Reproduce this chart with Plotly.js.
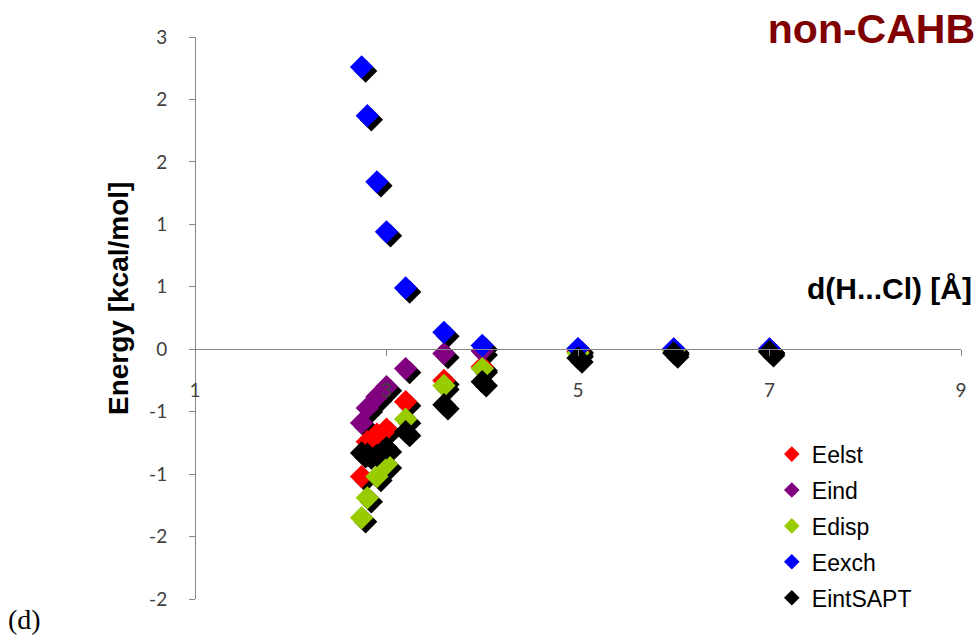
<!DOCTYPE html>
<html><head><meta charset="utf-8">
<script src="https://cdn.plot.ly/plotly-3.0.1.min.js"></script>
<style>html,body{margin:0;padding:0;background:#fff}#chart{width:978px;height:635px}</style>
</head><body><div id="chart"></div>
<script>
// ---- data ----
const distance = [2.74, 2.8, 2.9, 3.0, 3.2, 3.6, 4.0, 5.0, 6.0, 7.0];
const Eelst    = [-1.02, -0.74, -0.68, -0.64, -0.42, -0.25, -0.14, -0.02, -0.01, -0.005];
const Eind     = [-0.59, -0.47, -0.38, -0.30, -0.155, -0.035, -0.015, 0.0, 0.0, 0.0];
const Edisp    = [-1.35, -1.19, -1.02, -0.92, -0.56, -0.29, -0.155, -0.03, -0.01, -0.005];
const Eexch    = [2.26, 1.87, 1.34, 0.94, 0.49, 0.135, 0.03, 0.005, 0.003, 0.002];
const EintSAPT = [-0.83, -0.84, -0.85, -0.79, -0.66, -0.445, -0.26, -0.07, -0.03, -0.02];
const seriesNames = ['Eelst', 'Eind', 'Edisp', 'Eexch', 'EintSAPT'];
const xTickVals = [1, 3, 5, 7, 9];
const yTickVals = [-2, -1.5, -1, -0.5, 0, 0.5, 1, 1.5, 2, 2.5];
const yTickText = ['-2', '-2', '-1', '-1', '0', '1', '1', '2', '2', '3'];

// ---- styling ----
const seriesValues = [Eelst, Eind, Edisp, Eexch, EintSAPT];
const colors = ['#FF0000', '#800080', '#99CC00', '#0000FF', '#000000'];
const W = 978, H = 635, M = {l: 195, r: 17, t: 37, b: 36};
const xRange = [1, 9], yRange = [-2, 2.5];
const plotW = W - M.l - M.r, plotH = H - M.t - M.b;
const shadowPx = 4;
const dx = shadowPx * (xRange[1] - xRange[0]) / plotW;
const dy = shadowPx * (yRange[1] - yRange[0]) / plotH;
const mSize = 18;
const axisGray = '#868686';
const sans = '"Liberation Sans", Arial, sans-serif';
const tickFont = {family: 'Lato, "Liberation Sans", Arial, sans-serif', size: 19, color: '#404040'};

const traces = [];
// shadows (bottom layer, drawn on axes shifted by a few pixels)
seriesValues.forEach((vals, i) => {
  traces.push({
    x: distance, y: vals, xaxis: 'x', yaxis: 'y', type: 'scatter', mode: 'markers',
    marker: {symbol: 'diamond', size: mSize, color: '#000000', line: {width: 0}},
    showlegend: false, hoverinfo: 'skip'
  });
});
// markers
seriesValues.forEach((vals, i) => {
  traces.push({
    x: distance, y: vals, xaxis: 'x2', yaxis: 'y2', type: 'scatter', mode: 'markers',
    name: seriesNames[i], legendgroup: seriesNames[i],
    marker: {symbol: 'diamond', size: mSize, color: colors[i], line: {width: 0}}
  });
});

const layout = {
  width: W, height: H,
  margin: M,
  paper_bgcolor: '#ffffff', plot_bgcolor: '#ffffff',
  showlegend: true,
  title: {
    text: '<b>non-CAHB</b>', xref: 'container', yref: 'container',
    x: 0.997, xanchor: 'right', y: 0.955, yanchor: 'middle',
    font: {family: sans, size: 41, color: '#800000'}
  },
  xaxis: {range: [xRange[0] - dx, xRange[1] - dx], visible: false, fixedrange: true},
  yaxis: {range: [yRange[0] + dy, yRange[1] + dy], visible: false, fixedrange: true},
  xaxis2: {
    overlaying: 'x', range: xRange, anchor: 'free',
    position: (0 - yRange[0]) / (yRange[1] - yRange[0]),
    tickvals: xTickVals, ticktext: xTickVals.map(String),
    ticks: 'outside', ticklen: 6, tickcolor: axisGray, tickwidth: 1,
    showline: true, linecolor: axisGray, linewidth: 1,
    showgrid: false, zeroline: false, tickfont: tickFont, ticklabelstandoff: 18
  },
  yaxis2: {
    overlaying: 'y', range: yRange, anchor: 'free', position: 0, side: 'left',
    tickvals: yTickVals, ticktext: yTickText,
    ticks: 'outside', ticklen: 6, tickcolor: axisGray, tickwidth: 1,
    showline: true, linecolor: axisGray, linewidth: 1,
    showgrid: false, zeroline: false, tickfont: tickFont, ticklabelstandoff: 18
  },
  legend: {
    x: 0.753, xanchor: 'left', y: 0.296, yanchor: 'top',
    bgcolor: 'rgba(0,0,0,0)', borderwidth: 0,
    font: {family: sans, size: 23, color: '#000000'},
    itemsizing: 'constant', tracegroupgap: 3, traceorder: 'grouped'
  },
  annotations: [
    {text: '<b>Energy [kcal/mol]</b>', xref: 'paper', yref: 'paper', textangle: -90,
     x: (118 - M.l) / plotW, xanchor: 'center', y: (H - M.b - 299) / plotH, yanchor: 'middle',
     showarrow: false, font: {family: sans, size: 28, color: '#000000'}},
    {text: '<b>d(H...Cl) [Å]</b>', xref: 'paper', yref: 'paper',
     x: (974 - M.l) / plotW, xanchor: 'right', y: (H - M.b - 288) / plotH, yanchor: 'middle',
     showarrow: false, font: {family: sans, size: 30, color: '#000000'}},
    {text: '(d)', xref: 'paper', yref: 'paper',
     x: (6 - M.l) / plotW, xanchor: 'left', y: (H - M.b - 619) / plotH, yanchor: 'middle',
     showarrow: false, font: {family: '"Liberation Serif", "Times New Roman", serif', size: 28, color: '#000000'}}
  ]
};

Plotly.newPlot('chart', traces, layout, {displayModeBar: false, staticPlot: true});
</script>
</body></html>
